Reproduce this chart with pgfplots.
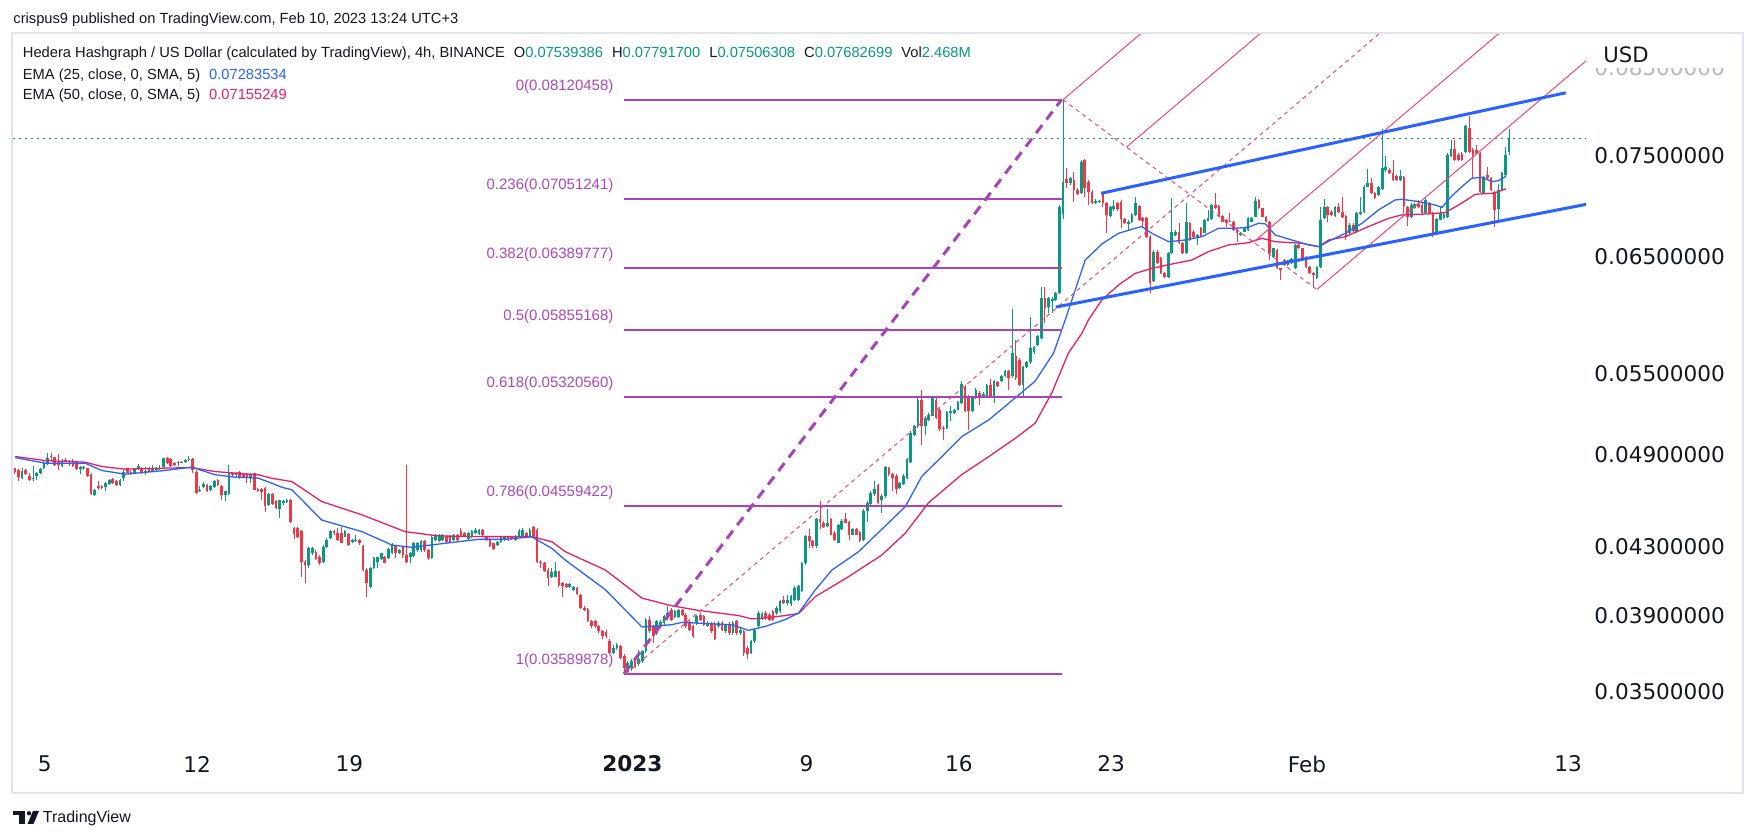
\documentclass[border=0pt]{standalone}
\usepackage{fontspec}
\setmainfont{Liberation Sans}
\newfontfamily\dejavu{DejaVu Sans}
\usepackage{pgfplots}
\usepackage{pgfplotstable}
\pgfplotsset{compat=1.18}

\definecolor{tvgreen}{HTML}{089981}
\definecolor{tvred}{HTML}{F23645}
\definecolor{emablue}{HTML}{2962FF}
\definecolor{emared}{HTML}{E91E63}
\definecolor{fibline}{HTML}{A843BA}
\definecolor{fiblab}{HTML}{AB47BC}
\definecolor{pfpink}{HTML}{F0457A}
\definecolor{tvtext}{HTML}{131722}
\definecolor{framegrey}{HTML}{E0E3EB}

% 4h candles, n = candle index (n=0 -> Jan 1 03:00 UTC+3)
\pgfplotstableread{
n o h l c
-169 0.04741 0.04809 0.04737 0.04793
-166 0.04737 0.04825 0.04719 0.04745
-165 0.04759 0.04786 0.04730 0.04779
-164 0.04775 0.04809 0.04768 0.04804
-163 0.04809 0.04866 0.04804 0.04843
-162 0.04843 0.04912 0.04832 0.04877
-158 0.04827 0.04870 0.04820 0.04854
-153 0.04802 0.04825 0.04768 0.04816
-152 0.04809 0.04825 0.04797 0.04816
-149 0.04631 0.04671 0.04620 0.04664
-146 0.04681 0.04714 0.04653 0.04708
-145 0.04704 0.04734 0.04697 0.04730
-142 0.04693 0.04734 0.04686 0.04730
-141 0.04745 0.04797 0.04719 0.04786
-138 0.04775 0.04813 0.04770 0.04809
-137 0.04804 0.04838 0.04797 0.04825
-135 0.04779 0.04820 0.04764 0.04793
-133 0.04786 0.04832 0.04781 0.04802
-132 0.04797 0.04820 0.04793 0.04813
-131 0.04802 0.04832 0.04797 0.04813
-130 0.04820 0.04882 0.04816 0.04877
-126 0.04843 0.04859 0.04825 0.04854
-124 0.04848 0.04870 0.04843 0.04866
-123 0.04866 0.04893 0.04861 0.04872
-120 0.04653 0.04686 0.04647 0.04664
-119 0.04681 0.04714 0.04675 0.04701
-117 0.04664 0.04693 0.04658 0.04686
-116 0.04681 0.04730 0.04675 0.04725
-113 0.04631 0.04658 0.04587 0.04653
-112 0.04636 0.04832 0.04631 0.04775
-110 0.04764 0.04786 0.04752 0.04779
-106 0.04748 0.04775 0.04708 0.04770
-101 0.04562 0.04642 0.04555 0.04638
-98 0.04540 0.04598 0.04481 0.04594
-97 0.04579 0.04597 0.04564 0.04590
-96 0.04586 0.04603 0.04579 0.04597
-90 0.04190 0.04301 0.04174 0.04290
-89 0.04260 0.04301 0.04250 0.04290
-86 0.04210 0.04311 0.04204 0.04301
-85 0.04301 0.04352 0.04290 0.04342
-84 0.04352 0.04405 0.04346 0.04401
-80 0.04363 0.04405 0.04359 0.04401
-78 0.04331 0.04346 0.04325 0.04342
-77 0.04336 0.04373 0.04331 0.04342
-73 0.04063 0.04180 0.04053 0.04174
-72 0.04170 0.04236 0.04165 0.04230
-71 0.04210 0.04240 0.04170 0.04236
-70 0.04224 0.04264 0.04220 0.04260
-68 0.04230 0.04290 0.04224 0.04284
-67 0.04260 0.04325 0.04256 0.04311
-65 0.04260 0.04284 0.04256 0.04280
-62 0.04240 0.04270 0.04200 0.04260
-61 0.04244 0.04331 0.04240 0.04321
-60 0.04280 0.04331 0.04270 0.04325
-59 0.04280 0.04342 0.04270 0.04336
-56 0.04230 0.04373 0.04226 0.04363
-55 0.04342 0.04380 0.04338 0.04373
-54 0.04338 0.04380 0.04331 0.04373
-53 0.04342 0.04380 0.04336 0.04373
-50 0.04342 0.04380 0.04338 0.04373
-46 0.04348 0.04394 0.04342 0.04384
-45 0.04359 0.04405 0.04352 0.04401
-44 0.04384 0.04415 0.04380 0.04405
-43 0.04380 0.04409 0.04373 0.04405
-38 0.04311 0.04338 0.04305 0.04331
-37 0.04331 0.04367 0.04325 0.04363
-36 0.04342 0.04367 0.04338 0.04363
-33 0.04342 0.04373 0.04338 0.04363
-32 0.04363 0.04409 0.04359 0.04401
-31 0.04367 0.04415 0.04363 0.04405
-29 0.04363 0.04415 0.04359 0.04405
-23 0.04122 0.04171 0.04113 0.04146
-22 0.04122 0.04211 0.04118 0.04152
-18 0.04061 0.04084 0.04055 0.04080
-17 0.04042 0.04065 0.04037 0.04061
-6 0.03699 0.03743 0.03690 0.03725
-5 0.03725 0.03752 0.03716 0.03743
-2 0.03605 0.03656 0.03590 0.03647
-1 0.03622 0.03665 0.03605 0.03656
1 0.03639 0.03716 0.03630 0.03665
2 0.03656 0.03716 0.03647 0.03708
3 0.03708 0.03887 0.03699 0.03878
6 0.03805 0.03878 0.03796 0.03869
7 0.03841 0.03878 0.03832 0.03863
8 0.03859 0.03905 0.03850 0.03896
9 0.03887 0.03955 0.03878 0.03914
11 0.03892 0.03933 0.03887 0.03924
12 0.03892 0.03936 0.03887 0.03929
17 0.03859 0.03905 0.03850 0.03896
20 0.03845 0.03869 0.03837 0.03859
23 0.03841 0.03869 0.03832 0.03859
25 0.03814 0.03856 0.03805 0.03847
27 0.03805 0.03869 0.03796 0.03859
29 0.03805 0.03832 0.03796 0.03823
32 0.03699 0.03769 0.03690 0.03760
33 0.03760 0.03832 0.03752 0.03823
34 0.03841 0.03924 0.03832 0.03914
35 0.03887 0.03918 0.03878 0.03911
39 0.03914 0.03951 0.03905 0.03942
40 0.03924 0.03988 0.03914 0.03979
42 0.03970 0.04017 0.03961 0.03988
43 0.03966 0.04017 0.03955 0.04007
44 0.03988 0.04065 0.03979 0.04055
45 0.03988 0.04074 0.03979 0.04065
46 0.04040 0.04210 0.04030 0.04200
47 0.04200 0.04375 0.04190 0.04366
50 0.04304 0.04482 0.04294 0.04471
53 0.04429 0.04539 0.04425 0.04450
56 0.04325 0.04440 0.04321 0.04433
57 0.04408 0.04471 0.04404 0.04460
60 0.04376 0.04419 0.04370 0.04408
63 0.04345 0.04535 0.04335 0.04524
64 0.04524 0.04589 0.04454 0.04578
65 0.04567 0.04655 0.04561 0.04644
66 0.04633 0.04722 0.04622 0.04671
68 0.04596 0.04633 0.04513 0.04622
69 0.04622 0.04827 0.04611 0.04818
73 0.04677 0.04715 0.04666 0.04706
74 0.04699 0.04766 0.04693 0.04755
75 0.04744 0.04880 0.04737 0.04873
76 0.04850 0.05067 0.04846 0.05055
77 0.05043 0.05115 0.05036 0.05108
78 0.05103 0.05314 0.05091 0.05302
80 0.05103 0.05176 0.05043 0.05164
81 0.05147 0.05201 0.05140 0.05189
82 0.05181 0.05327 0.05176 0.05314
86 0.05091 0.05214 0.05084 0.05206
87 0.05201 0.05251 0.05140 0.05214
88 0.05201 0.05231 0.05196 0.05221
89 0.05226 0.05289 0.05221 0.05281
90 0.05276 0.05442 0.05271 0.05424
93 0.05214 0.05327 0.05206 0.05319
94 0.05314 0.05391 0.05307 0.05378
96 0.05327 0.05357 0.05319 0.05347
97 0.05327 0.05424 0.05319 0.05414
99 0.05327 0.05450 0.05276 0.05440
101 0.05442 0.05494 0.05435 0.05481
102 0.05481 0.05533 0.05473 0.05520
104 0.05481 0.06028 0.05468 0.05665
107 0.05416 0.05564 0.05314 0.05554
108 0.05554 0.05604 0.05546 0.05593
109 0.05591 0.05960 0.05580 0.05705
110 0.05670 0.05724 0.05659 0.05713
111 0.05732 0.05814 0.05724 0.05800
112 0.05787 0.06225 0.05778 0.06122
114 0.06045 0.06136 0.05994 0.06122
115 0.06102 0.06136 0.05994 0.06113
116 0.06108 0.06180 0.06102 0.06166
117 0.06166 0.06990 0.06160 0.06969
118 0.06900 0.08120 0.06850 0.07227
120 0.07210 0.07278 0.07193 0.07261
123 0.07109 0.07453 0.07102 0.07436
127 0.07015 0.07048 0.07002 0.07035
128 0.07018 0.07042 0.07009 0.07032
131 0.06884 0.06982 0.06871 0.06969
132 0.06949 0.07042 0.06936 0.06982
136 0.06806 0.06845 0.06748 0.06828
137 0.06828 0.06910 0.06818 0.06894
138 0.06894 0.07068 0.06884 0.07009
143 0.06280 0.06558 0.06270 0.06543
147 0.06314 0.06540 0.06299 0.06527
148 0.06527 0.07058 0.06520 0.06732
149 0.06700 0.06750 0.06690 0.06732
152 0.06534 0.07009 0.06525 0.06828
155 0.06684 0.06710 0.06605 0.06700
157 0.06722 0.06850 0.06715 0.06845
158 0.06838 0.06943 0.06830 0.06861
159 0.06851 0.07000 0.06845 0.06992
167 0.06700 0.06730 0.06690 0.06722
168 0.06732 0.06770 0.06725 0.06764
169 0.06748 0.06870 0.06740 0.06861
170 0.06828 0.06870 0.06820 0.06861
171 0.06877 0.07075 0.06870 0.07032
176 0.06496 0.06580 0.06480 0.06574
180 0.06419 0.06470 0.06410 0.06465
181 0.06435 0.06480 0.06425 0.06472
182 0.06389 0.06612 0.06380 0.06605
188 0.06299 0.06410 0.06290 0.06404
189 0.06404 0.06975 0.06395 0.06845
190 0.06861 0.07049 0.06851 0.06969
193 0.06884 0.06982 0.06877 0.06969
197 0.06716 0.06813 0.06700 0.06797
199 0.06732 0.06926 0.06723 0.06910
200 0.06904 0.07076 0.06894 0.06926
201 0.06926 0.07194 0.06917 0.07177
202 0.07177 0.07356 0.07170 0.07211
205 0.07092 0.07184 0.07082 0.07170
206 0.07153 0.07785 0.07143 0.07366
207 0.07349 0.07496 0.07332 0.07377
211 0.07245 0.07349 0.07238 0.07287
214 0.06877 0.07009 0.06861 0.06992
215 0.06959 0.07016 0.06949 0.07002
218 0.06917 0.07059 0.06904 0.07042
221 0.06732 0.06861 0.06716 0.06851
222 0.06845 0.06976 0.06839 0.06910
223 0.06861 0.06917 0.06851 0.06904
224 0.06871 0.07525 0.06861 0.07507
225 0.07500 0.07668 0.07489 0.07567
229 0.07542 0.07834 0.07532 0.07822
234 0.07116 0.07287 0.07109 0.07273
238 0.06949 0.07204 0.06845 0.07143
239 0.07143 0.07332 0.07136 0.07315
240 0.07297 0.07596 0.07287 0.07507
241 0.07539 0.07792 0.07506 0.07683
}\upc

\pgfplotstableread{
n o h l c
-171 0.04809 0.04813 0.04768 0.04786
-170 0.04797 0.04802 0.04725 0.04752
-168 0.04797 0.04802 0.04764 0.04768
-167 0.04757 0.04775 0.04725 0.04730
-161 0.04893 0.04912 0.04866 0.04884
-160 0.04884 0.04889 0.04827 0.04832
-159 0.04854 0.04905 0.04797 0.04832
-157 0.04866 0.04882 0.04848 0.04854
-156 0.04861 0.04866 0.04825 0.04848
-155 0.04861 0.04870 0.04820 0.04827
-154 0.04854 0.04861 0.04797 0.04802
-151 0.04809 0.04813 0.04748 0.04759
-150 0.04764 0.04775 0.04631 0.04636
-148 0.04686 0.04719 0.04664 0.04675
-147 0.04690 0.04697 0.04671 0.04675
-144 0.04734 0.04741 0.04704 0.04708
-143 0.04725 0.04730 0.04686 0.04693
-140 0.04809 0.04813 0.04775 0.04779
-139 0.04786 0.04797 0.04764 0.04770
-136 0.04809 0.04820 0.04770 0.04775
-134 0.04813 0.04820 0.04781 0.04786
-129 0.04882 0.04889 0.04838 0.04843
-128 0.04870 0.04877 0.04820 0.04825
-127 0.04843 0.04848 0.04827 0.04832
-125 0.04854 0.04859 0.04843 0.04848
-122 0.04870 0.04877 0.04775 0.04797
-121 0.04786 0.04797 0.04638 0.04642
-118 0.04697 0.04701 0.04649 0.04653
-115 0.04730 0.04734 0.04686 0.04693
-114 0.04690 0.04697 0.04594 0.04627
-111 0.04779 0.04786 0.04759 0.04764
-109 0.04786 0.04790 0.04734 0.04741
-108 0.04775 0.04779 0.04741 0.04748
-107 0.04770 0.04775 0.04708 0.04748
-105 0.04775 0.04779 0.04660 0.04664
-104 0.04669 0.04675 0.04647 0.04653
-103 0.04669 0.04675 0.04598 0.04649
-102 0.04675 0.04681 0.04519 0.04555
-100 0.04638 0.04642 0.04566 0.04572
-99 0.04587 0.04594 0.04540 0.04545
-95 0.04597 0.04603 0.04447 0.04457
-94 0.04415 0.04426 0.04346 0.04380
-93 0.04415 0.04422 0.04352 0.04363
-92 0.04401 0.04405 0.04122 0.04210
-91 0.04210 0.04220 0.04086 0.04190
-88 0.04270 0.04280 0.04220 0.04226
-87 0.04240 0.04250 0.04190 0.04200
-83 0.04401 0.04405 0.04373 0.04384
-82 0.04384 0.04415 0.04338 0.04342
-81 0.04384 0.04426 0.04321 0.04325
-79 0.04380 0.04384 0.04305 0.04311
-76 0.04342 0.04346 0.04311 0.04321
-75 0.04305 0.04311 0.04157 0.04161
-74 0.04161 0.04170 0.04002 0.04082
-69 0.04240 0.04244 0.04200 0.04204
-66 0.04305 0.04311 0.04230 0.04260
-64 0.04301 0.04305 0.04230 0.04250
-63 0.04250 0.04831 0.04200 0.04210
-58 0.04336 0.04342 0.04270 0.04280
-57 0.04280 0.04284 0.04220 0.04230
-52 0.04367 0.04373 0.04325 0.04331
-51 0.04367 0.04373 0.04325 0.04331
-49 0.04373 0.04380 0.04338 0.04342
-48 0.04401 0.04415 0.04359 0.04363
-47 0.04384 0.04394 0.04359 0.04363
-42 0.04405 0.04409 0.04367 0.04373
-41 0.04363 0.04367 0.04338 0.04342
-40 0.04346 0.04352 0.04301 0.04305
-39 0.04321 0.04325 0.04280 0.04284
-35 0.04363 0.04367 0.04338 0.04342
-34 0.04363 0.04367 0.04342 0.04346
-30 0.04384 0.04394 0.04359 0.04363
-28 0.04422 0.04431 0.04359 0.04363
-27 0.04405 0.04415 0.04201 0.04211
-26 0.04211 0.04221 0.04171 0.04201
-25 0.04201 0.04211 0.04146 0.04152
-24 0.04161 0.04171 0.04065 0.04113
-21 0.04152 0.04157 0.04061 0.04074
-20 0.04084 0.04093 0.04004 0.04065
-19 0.04080 0.04084 0.04055 0.04061
-16 0.04055 0.04061 0.04017 0.04023
-15 0.04017 0.04023 0.03936 0.03942
-14 0.03942 0.03951 0.03924 0.03933
-13 0.03936 0.03942 0.03863 0.03869
-12 0.03869 0.03878 0.03832 0.03841
-11 0.03869 0.03878 0.03832 0.03841
-10 0.03841 0.03847 0.03805 0.03814
-9 0.03814 0.03823 0.03773 0.03787
-8 0.03810 0.03823 0.03780 0.03790
-7 0.03764 0.03773 0.03690 0.03699
-4 0.03734 0.03743 0.03665 0.03673
-3 0.03682 0.03690 0.03597 0.03622
0 0.03665 0.03673 0.03622 0.03630
4 0.03878 0.03896 0.03805 0.03814
5 0.03841 0.03850 0.03752 0.03787
10 0.03933 0.03942 0.03869 0.03878
13 0.03929 0.03936 0.03896 0.03905
14 0.03905 0.03914 0.03832 0.03841
15 0.03859 0.03869 0.03814 0.03823
16 0.03841 0.03850 0.03778 0.03787
18 0.03905 0.03914 0.03869 0.03878
19 0.03896 0.03905 0.03841 0.03850
21 0.03856 0.03863 0.03805 0.03814
22 0.03856 0.03863 0.03769 0.03773
24 0.03859 0.03869 0.03814 0.03823
26 0.03856 0.03863 0.03796 0.03805
28 0.03869 0.03878 0.03796 0.03805
30 0.03814 0.03823 0.03682 0.03699
31 0.03725 0.03734 0.03665 0.03690
36 0.03914 0.03924 0.03878 0.03887
37 0.03905 0.03914 0.03869 0.03878
38 0.03924 0.03933 0.03869 0.03878
41 0.03988 0.04007 0.03966 0.03973
48 0.04366 0.04408 0.04294 0.04335
49 0.04335 0.04345 0.04294 0.04304
51 0.04471 0.04589 0.04408 0.04454
52 0.04450 0.04460 0.04419 0.04425
54 0.04471 0.04482 0.04370 0.04376
55 0.04387 0.04397 0.04335 0.04345
58 0.04475 0.04513 0.04446 0.04450
59 0.04454 0.04460 0.04345 0.04376
61 0.04408 0.04419 0.04370 0.04376
62 0.04391 0.04397 0.04329 0.04335
67 0.04693 0.04699 0.04567 0.04578
70 0.04807 0.04818 0.04755 0.04766
71 0.04766 0.04777 0.04655 0.04744
72 0.04755 0.04766 0.04633 0.04666
79 0.05302 0.05378 0.04972 0.05103
83 0.05302 0.05332 0.05157 0.05164
84 0.05226 0.05239 0.05067 0.05084
85 0.05091 0.05103 0.05003 0.05084
91 0.05398 0.05409 0.05206 0.05214
92 0.05327 0.05340 0.05079 0.05214
95 0.05352 0.05365 0.05264 0.05314
98 0.05409 0.05460 0.05319 0.05327
100 0.05435 0.05442 0.05396 0.05404
103 0.05520 0.05533 0.05378 0.05468
105 0.05638 0.05773 0.05455 0.05468
106 0.05612 0.05625 0.05404 0.05416
113 0.06122 0.06225 0.05909 0.06036
119 0.07251 0.07365 0.07159 0.07210
121 0.07244 0.07330 0.07025 0.07142
122 0.07142 0.07159 0.07092 0.07102
124 0.07453 0.07460 0.07075 0.07159
125 0.07227 0.07244 0.06992 0.07125
126 0.07125 0.07142 0.07002 0.07015
129 0.07109 0.07125 0.06975 0.07009
130 0.07009 0.07025 0.06716 0.06894
133 0.07009 0.07025 0.06936 0.06949
134 0.07025 0.07042 0.06764 0.06851
135 0.06851 0.06861 0.06806 0.06812
139 0.06982 0.06992 0.06835 0.06845
140 0.06861 0.06877 0.06780 0.06838
141 0.06861 0.06877 0.06668 0.06684
142 0.06684 0.06700 0.06172 0.06255
144 0.06543 0.06558 0.06425 0.06435
145 0.06481 0.06495 0.06335 0.06344
146 0.06350 0.06360 0.06299 0.06314
150 0.06732 0.06812 0.06615 0.06621
151 0.06621 0.06630 0.06525 0.06534
153 0.06812 0.06828 0.06645 0.06652
154 0.06732 0.06745 0.06675 0.06684
156 0.06764 0.06775 0.06680 0.06690
160 0.06992 0.07109 0.06950 0.06959
161 0.06982 0.06990 0.06870 0.06877
162 0.06884 0.06890 0.06820 0.06828
163 0.06845 0.06850 0.06780 0.06812
164 0.06838 0.06910 0.06820 0.06828
165 0.06828 0.06835 0.06740 0.06748
166 0.06748 0.06755 0.06636 0.06716
172 0.07042 0.07050 0.06950 0.06959
173 0.06959 0.06965 0.06870 0.06877
174 0.06877 0.06885 0.06820 0.06828
175 0.06828 0.06835 0.06465 0.06527
177 0.06558 0.06570 0.06380 0.06389
178 0.06389 0.06395 0.06284 0.06374
179 0.06465 0.06475 0.06410 0.06419
183 0.06605 0.06615 0.06565 0.06574
184 0.06574 0.06580 0.06475 0.06481
185 0.06496 0.06505 0.06395 0.06404
186 0.06404 0.06410 0.06335 0.06344
187 0.06350 0.06355 0.06225 0.06329
191 0.06969 0.06982 0.06829 0.06894
192 0.06926 0.06943 0.06884 0.06894
194 0.06969 0.07009 0.06917 0.06926
195 0.06926 0.07069 0.06861 0.06871
196 0.06884 0.06894 0.06652 0.06684
198 0.06797 0.06813 0.06732 0.06742
203 0.07211 0.07263 0.07102 0.07109
204 0.07109 0.07126 0.07049 0.07059
208 0.07349 0.07366 0.07308 0.07315
209 0.07315 0.07454 0.07238 0.07245
210 0.07287 0.07297 0.07238 0.07245
212 0.07273 0.07287 0.06910 0.06982
213 0.06969 0.06982 0.06787 0.06877
216 0.07002 0.07042 0.06959 0.06969
217 0.06992 0.07009 0.06904 0.06917
219 0.07016 0.07026 0.06904 0.06917
220 0.06917 0.06926 0.06684 0.06700
226 0.07567 0.07668 0.07447 0.07454
227 0.07507 0.07525 0.07447 0.07454
228 0.07518 0.07542 0.07447 0.07454
230 0.07796 0.07934 0.07532 0.07542
231 0.07560 0.07578 0.07263 0.07507
232 0.07560 0.07614 0.07518 0.07525
233 0.07532 0.07542 0.07116 0.07126
235 0.07297 0.07384 0.07252 0.07263
236 0.07263 0.07273 0.07136 0.07143
237 0.07126 0.07136 0.06780 0.06943
}\dnc

\begin{document}
\begin{tikzpicture}
\path[fill=white] (0,0) rectangle (878pt,419pt);

\begin{axis}[
    at={(6.35pt,51.5pt)}, anchor=south west,
    scale only axis, width=786.65pt, height=350.5pt,
    xmin=-171.6, xmax=262.2,
    ymode=log, ymin=0.032907, ymax=0.089155,
    axis line style={draw=none},
    major tick length=0pt, tick style={draw=none},
    xtick={-162.75,-120.75,-78.75,-0.75,47.25,89.25,131.25,185.25,257.25},
    xticklabels={5,12,19,\textbf{2023},9,16,23,Feb,13},
    ytick={0.035,0.039,0.043,0.049,0.055,0.065,0.075},
    yticklabels={0.03500000,0.03900000,0.04300000,0.04900000,0.05500000,0.06500000,0.07500000},
    yticklabel pos=right,
    ticklabel style={font=\dejavu\fontsize{10.8}{12}\selectfont, text=tvtext},
    yticklabel style={anchor=west, xshift=4pt, inner sep=0pt},
    xticklabel style={anchor=center, yshift=-14.5pt, inner sep=0pt},
]

% wicks
\addplot[mark=none, draw=none, error bars/.cd, y dir=plus, y explicit, error mark=none,
    error bar style={line width=0.5pt, draw=tvgreen}]
    table[x=n, y=l, y error plus expr=\thisrow{h}-\thisrow{l}] {\upc};
\addplot[mark=none, draw=none, error bars/.cd, y dir=plus, y explicit, error mark=none,
    error bar style={line width=0.5pt, draw=tvred}]
    table[x=n, y=l, y error plus expr=\thisrow{h}-\thisrow{l}] {\dnc};
% bodies
\addplot[mark=none, draw=none, error bars/.cd, y dir=plus, y explicit, error mark=none,
    error bar style={line width=1.35pt, draw=tvgreen}]
    table[x=n, y=o, y error plus expr=\thisrow{c}-\thisrow{o}] {\upc};
\addplot[mark=none, draw=none, error bars/.cd, y dir=plus, y explicit, error mark=none,
    error bar style={line width=1.35pt, draw=tvred}]
    table[x=n, y=c, y error plus expr=\thisrow{o}-\thisrow{c}] {\dnc};

% EMA 50
\addplot[emared, line width=0.65pt, mark=none] coordinates {
(-170.9,0.04889) (-162.6,0.04861) (-151.6,0.04850) (-147.0,0.04820) (-140.6,0.04802)
(-130.5,0.04809) (-122.2,0.04813) (-115.8,0.04786) (-110.3,0.04775) (-103.9,0.04764)
(-100.1,0.04740) (-94.6,0.04718) (-86.4,0.04586) (-75.3,0.04500) (-63.4,0.04394)
(-54.2,0.04367) (-41.3,0.04363) (-28.5,0.04363) (-22.9,0.04331) (-19.3,0.04271)
(-8.2,0.04161) (1.9,0.03998) (10.1,0.03955) (17.5,0.03929) (28.5,0.03900)
(32.2,0.03882) (35.9,0.03887) (41.4,0.03900) (45.1,0.03912) (49.7,0.04006)
(58.9,0.04122) (68.0,0.04250) (74.5,0.04384) (80.9,0.04578) (90.1,0.04766)
(97.5,0.04888) (104.8,0.05017) (110.3,0.05126) (114.9,0.05352) (119.5,0.05665)
(123.2,0.05826) (125.0,0.05937) (128.7,0.06108) (133.3,0.06240) (137.9,0.06344)
(142.5,0.06389) (148.9,0.06435) (153.5,0.06465) (158.1,0.06543) (163.6,0.06605)
(169.1,0.06627) (172.8,0.06668) (176.5,0.06636) (183.9,0.06621) (188.5,0.06590)
(191.2,0.06652) (195.8,0.06684) (202.2,0.06780) (207.8,0.06861) (211.4,0.06894)
(218.8,0.06904) (223.4,0.06917) (227.1,0.06992) (231.7,0.07099) (236.3,0.07109)
(238.1,0.07126) (240.1,0.07155)};
% EMA 25
\addplot[emablue, line width=0.65pt, mark=none] coordinates {
(-170.9,0.04882) (-162.6,0.04843) (-151.6,0.04843) (-147.0,0.04793) (-140.6,0.04768)
(-130.5,0.04791) (-122.2,0.04816) (-115.8,0.04764) (-110.3,0.04748) (-103.9,0.04741)
(-100.1,0.04707) (-97.5,0.04681) (-94.6,0.04663) (-86.4,0.04467) (-75.3,0.04394)
(-67.0,0.04311) (-61.6,0.04297) (-54.2,0.04317) (-43.2,0.04346) (-35.8,0.04346)
(-28.5,0.04362) (-22.9,0.04290) (-19.3,0.04221) (-8.2,0.04046) (1.9,0.03837)
(10.1,0.03850) (12.9,0.03863) (19.3,0.03856) (26.7,0.03850) (31.3,0.03819)
(35.9,0.03841) (41.4,0.03878) (45.1,0.03915) (49.7,0.04045) (54.3,0.04161)
(61.6,0.04270) (68.0,0.04408) (74.5,0.04553) (79.1,0.04755) (84.6,0.04888)
(90.1,0.05030) (97.5,0.05150) (104.8,0.05314) (110.3,0.05442) (115.4,0.05665)
(118.6,0.05937) (121.4,0.06200) (124.1,0.06465) (128.7,0.06614) (133.3,0.06716)
(137.9,0.06764) (139.7,0.06780) (142.5,0.06716) (147.1,0.06636) (151.7,0.06652)
(156.3,0.06684) (160.9,0.06764) (165.5,0.06764) (169.1,0.06774) (171.9,0.06812)
(173.8,0.06806) (176.5,0.06700) (181.1,0.06652) (185.7,0.06605) (188.5,0.06590)
(191.2,0.06640) (195.8,0.06716) (200.4,0.06811) (205.0,0.06943) (209.6,0.07042)
(211.4,0.07049) (216.0,0.07026) (220.6,0.06992) (222.5,0.06969) (225.2,0.07082)
(228.0,0.07177) (230.7,0.07263) (233.5,0.07273) (236.3,0.07228) (238.1,0.07238)
(240.1,0.07284)};

% last price line
\addplot[tvgreen, line width=0.5pt, dash pattern=on 1pt off 2pt] coordinates {(-171.6,0.07683) (262.2,0.07683)};

% fibonacci retracement
\addplot[fibline, line width=1pt] coordinates {(-3.1,0.08120458) (117.6,0.08120458)};
\addplot[fibline, line width=1pt] coordinates {(-3.1,0.07051241) (117.6,0.07051241)};
\addplot[fibline, line width=1pt] coordinates {(-3.1,0.06389777) (117.6,0.06389777)};
\addplot[fibline, line width=1pt] coordinates {(-3.1,0.05855168) (117.6,0.05855168)};
\addplot[fibline, line width=1pt] coordinates {(-3.1,0.05320560) (117.6,0.05320560)};
\addplot[fibline, line width=1pt] coordinates {(-3.1,0.04559422) (117.6,0.04559422)};
\addplot[fibline, line width=1pt] coordinates {(-3.1,0.03589878) (117.6,0.03589878)};
\addplot[fibline, line width=1.5pt, dash pattern=on 5pt off 3.5pt] coordinates {(-3.1,0.03589878) (117.6,0.08120458)};

% pitchfork
\addplot[pfpink, line width=0.5pt, dash pattern=on 2pt off 2pt] coordinates {(-2.5,0.0359) (230,0.09944)};
\addplot[pfpink, line width=0.5pt, dash pattern=on 2pt off 2pt] coordinates {(118,0.0812) (188,0.0620)};
\addplot[pfpink, line width=0.5pt] coordinates {(118,0.0812) (160,0.09762)};
\addplot[pfpink, line width=0.5pt] coordinates {(135.5,0.07592) (200,0.10071)};
\addplot[pfpink, line width=0.5pt] coordinates {(170.5,0.06633) (250,0.09398)};
\addplot[pfpink, line width=0.5pt] coordinates {(188,0.0620) (270,0.08879)};

% channel
\addplot[emablue, line width=1.5pt] coordinates {(128.5,0.07109) (256.6,0.08201)};
\addplot[emablue, line width=1.5pt] coordinates {(116.0,0.06047) (262.7,0.07001)};

\coordinate (F0) at (axis cs:-3.1,0.08120458);
\coordinate (F1) at (axis cs:-3.1,0.07051241);
\coordinate (F2) at (axis cs:-3.1,0.06389777);
\coordinate (F3) at (axis cs:-3.1,0.05855168);
\coordinate (F4) at (axis cs:-3.1,0.05320560);
\coordinate (F5) at (axis cs:-3.1,0.04559422);
\coordinate (F6) at (axis cs:-3.1,0.03589878);
\coordinate (Y85) at (axis cs:262.2,0.085);
\end{axis}

\begin{scope}[x=0.5pt, y=-0.5pt, shift={(0pt,419pt)}]
\draw[framegrey, line width=0.9pt] (12,33) rectangle (1743,793);
\tikzset{fl/.style={anchor=east, inner sep=0pt, text=fiblab, font=\fontsize{7.5}{9}\selectfont}}
\node[fl] at ([xshift=-5pt,yshift=6.6pt]F0) {0(0.08120458)};
\node[fl] at ([xshift=-5pt,yshift=6.6pt]F1) {0.236(0.07051241)};
\node[fl] at ([xshift=-5pt,yshift=6.6pt]F2) {0.382(0.06389777)};
\node[fl] at ([xshift=-5pt,yshift=6.6pt]F3) {0.5(0.05855168)};
\node[fl] at ([xshift=-5pt,yshift=6.6pt]F4) {0.618(0.05320560)};
\node[fl] at ([xshift=-5pt,yshift=6.6pt]F5) {0.786(0.04559422)};
\node[fl] at ([xshift=-5pt,yshift=6.6pt]F6) {1(0.03589878)};

\node[anchor=west, inner sep=0pt, text=black!28, font=\dejavu\fontsize{10.8}{12}\selectfont] at ([xshift=4pt]Y85) {0.08500000};
\fill[white] (1588,36) rectangle (1738,68.5);
\node[anchor=west, inner sep=0pt, text=tvtext, font=\dejavu\fontsize{10.6}{12}\selectfont] at (1603,55) {USD};

\tikzset{hd/.style={anchor=base west, inner sep=0pt, text=tvtext, font=\fontsize{7.35}{9}\selectfont}}
\node[hd] at (13,24) {crispus9 published on TradingView.com, Feb 10, 2023 13:24 UTC+3};
\node[hd] at (22.5,57.7) {Hedera Hashgraph / US Dollar (calculated by TradingView), 4h, BINANCE\hspace{4.5pt}O\textcolor{tvgreen}{0.07539386}\hspace{4.5pt}H\textcolor{tvgreen}{0.07791700}\hspace{4.5pt}L\textcolor{tvgreen}{0.07506308}\hspace{4.5pt}C\textcolor{tvgreen}{0.07682699}\hspace{4.5pt}Vol\textcolor{tvgreen}{2.468M}};
\node[hd] at (22.5,80) {EMA (25, close, 0, SMA, 5)\hspace{4.5pt}\textcolor{emablue}{0.07283534}};
\node[hd] at (22.5,100) {EMA (50, close, 0, SMA, 5)\hspace{4.5pt}\textcolor{emared}{0.07155249}};

% TradingView logo
\fill[tvtext] (13,811) rectangle (25,815.5);
\fill[tvtext] (19,815.5) rectangle (25,824);
\fill[tvtext] (29,813.3) circle (2.2);
\fill[tvtext] (33,811) -- (39,811) -- (33.5,824) -- (27.5,824) -- cycle;
\node[anchor=base west, inner sep=0pt, text=tvtext, font=\fontsize{8}{9}\selectfont] at (42.5,823) {TradingView};
\end{scope}

\pgfresetboundingbox
\path (0,0) rectangle (878pt,419pt);
\end{tikzpicture}
\end{document}
